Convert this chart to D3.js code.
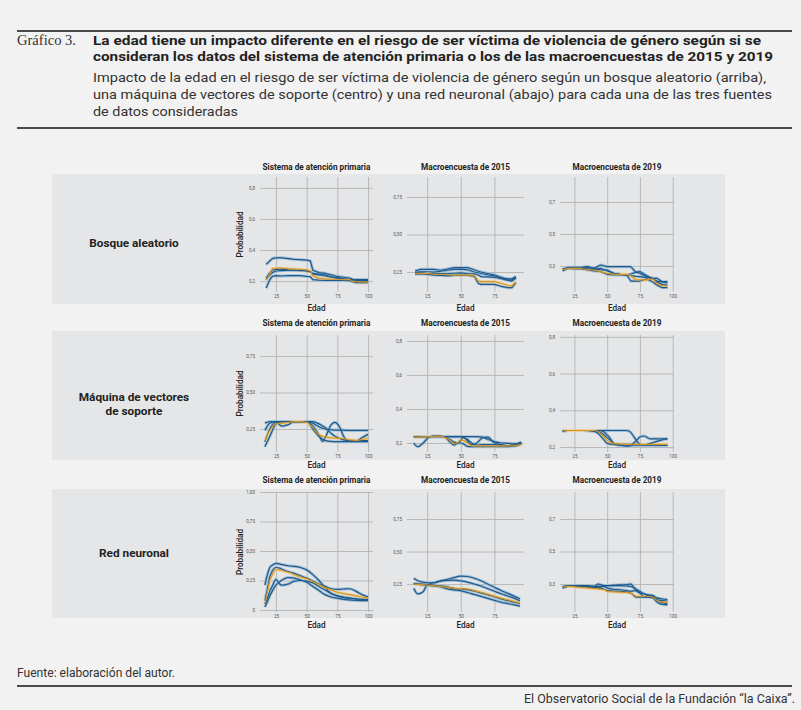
<!DOCTYPE html>
<html><head><meta charset="utf-8">
<script src="https://cdn.jsdelivr.net/npm/d3@7"></script>
<style>body{margin:0;background:#f2f2f2}svg{display:block}</style>
</head><body><svg id="c" width="801" height="710"></svg>
<script>
// ---------- categories / labels ----------
const rowLabels = [["Bosque aleatorio"], ["Máquina de vectores", "de soporte"], ["Red neuronal"]];
const colTitles = ["Sistema de atención primaria", "Macroencuesta de 2015", "Macroencuesta de 2019"];
const xTicksByCol = [[25, 50, 75, 100], [25, 50, 75], [25, 50, 75, 100]];
const seriesColorKeys = ["blue", "blue", "blue", "blue", "orange"];

// ---------- Bosque aleatorio ----------
const yTicks_rf_ap = [0.2, 0.4, 0.6, 0.8];
const ages_rf_ap = [17,20,22,25,30,35,40,45,50,53,55,60,65,70,75,80,85,88,90,95,100];
const rf_ap = [
  [0.308,0.33,0.345,0.35,0.35,0.345,0.34,0.338,0.335,0.33,0.27,0.255,0.25,0.24,0.23,0.225,0.22,0.21,0.21,0.21,0.21],
  [0.21,0.24,0.255,0.265,0.268,0.27,0.27,0.268,0.265,0.26,0.245,0.24,0.238,0.228,0.222,0.215,0.212,0.208,0.205,0.205,0.205],
  [0.155,0.21,0.23,0.235,0.233,0.235,0.236,0.235,0.23,0.228,0.21,0.207,0.205,0.205,0.205,0.205,0.203,0.195,0.19,0.19,0.19],
  [0.22,0.255,0.27,0.275,0.275,0.272,0.27,0.27,0.268,0.262,0.25,0.245,0.235,0.225,0.218,0.215,0.208,0.2,0.198,0.2,0.2],
  [0.206,0.25,0.28,0.283,0.283,0.28,0.278,0.275,0.272,0.265,0.235,0.218,0.215,0.213,0.212,0.21,0.21,0.198,0.195,0.195,0.193]
];
const yTicks_rf_2015 = [0.25, 0.5, 0.75];
const ages_rf_2015 = [16,20,25,30,35,40,45,50,55,60,63,65,70,75,80,85,88,91];
const rf_2015 = [
  [0.257,0.268,0.268,0.268,0.262,0.27,0.279,0.279,0.279,0.265,0.255,0.25,0.24,0.23,0.215,0.2,0.197,0.215],
  [0.248,0.252,0.252,0.25,0.255,0.262,0.268,0.27,0.265,0.25,0.245,0.24,0.232,0.225,0.21,0.205,0.205,0.22],
  [0.236,0.238,0.235,0.23,0.228,0.225,0.228,0.23,0.228,0.222,0.175,0.168,0.168,0.168,0.155,0.146,0.146,0.18],
  [0.245,0.245,0.242,0.24,0.24,0.238,0.242,0.245,0.24,0.238,0.23,0.22,0.218,0.215,0.205,0.195,0.19,0.21],
  [0.241,0.24,0.24,0.237,0.235,0.232,0.23,0.23,0.23,0.228,0.19,0.186,0.186,0.186,0.175,0.16,0.157,0.185]
];
const yTicks_rf_2019 = [0.3, 0.5, 0.7];
const ages_rf_2019 = [16,20,25,30,35,40,45,50,55,60,65,68,72,75,80,85,88,92,96];
const rf_2019 = [
  [0.275,0.292,0.292,0.292,0.294,0.285,0.306,0.296,0.296,0.296,0.296,0.296,0.26,0.255,0.233,0.223,0.223,0.202,0.202],
  [0.279,0.288,0.288,0.288,0.296,0.285,0.275,0.275,0.254,0.248,0.244,0.25,0.262,0.265,0.24,0.219,0.205,0.2,0.196],
  [0.269,0.285,0.282,0.282,0.275,0.269,0.265,0.248,0.244,0.244,0.244,0.206,0.206,0.206,0.219,0.2,0.181,0.165,0.165],
  [0.279,0.288,0.285,0.285,0.282,0.279,0.285,0.269,0.254,0.248,0.244,0.24,0.235,0.233,0.227,0.223,0.2,0.185,0.181],
  [0.275,0.285,0.285,0.285,0.275,0.275,0.265,0.254,0.248,0.248,0.248,0.24,0.213,0.213,0.213,0.219,0.19,0.175,0.175]
];

// ---------- Máquina de vectores de soporte ----------
const yTicks_svm_ap = [0.25, 0.5, 0.75];
const ages_svm_ap = [16,20,25,30,35,40,45,50,55,60,63,65,70,73,77,80,85,90,95,100];
const svm_ap = [
  [0.29,0.3,0.3,0.3,0.3,0.3,0.3,0.3,0.29,0.265,0.255,0.25,0.245,0.243,0.243,0.242,0.24,0.24,0.24,0.24],
  [0.163,0.25,0.295,0.27,0.28,0.3,0.3,0.3,0.27,0.21,0.165,0.19,0.28,0.295,0.26,0.2,0.165,0.165,0.19,0.214],
  [0.129,0.2,0.285,0.3,0.3,0.3,0.3,0.3,0.25,0.2,0.18,0.17,0.165,0.163,0.163,0.163,0.163,0.163,0.163,0.163],
  [0.24,0.29,0.3,0.3,0.3,0.3,0.3,0.3,0.3,0.285,0.27,0.26,0.22,0.2,0.185,0.175,0.17,0.17,0.17,0.17],
  [0.17,0.24,0.285,0.29,0.295,0.3,0.3,0.295,0.26,0.21,0.2,0.195,0.19,0.188,0.186,0.185,0.175,0.172,0.178,0.185]
];
const yTicks_svm_2015 = [0.2, 0.4, 0.6, 0.8];
const ages_svm_2015 = [15,18,22,27,30,35,38,42,45,48,50,52,55,58,62,66,70,75,80,85,90,95];
const svm_2015 = [
  [0.237,0.237,0.237,0.237,0.237,0.237,0.237,0.237,0.237,0.237,0.237,0.237,0.237,0.237,0.237,0.235,0.222,0.208,0.2,0.198,0.195,0.195],
  [0.2,0.178,0.2,0.237,0.24,0.24,0.235,0.22,0.205,0.2,0.215,0.235,0.21,0.19,0.2,0.23,0.235,0.2,0.19,0.185,0.19,0.205],
  [0.237,0.237,0.237,0.238,0.24,0.24,0.235,0.205,0.188,0.2,0.2,0.195,0.18,0.178,0.178,0.178,0.178,0.178,0.178,0.178,0.185,0.2],
  [0.237,0.237,0.237,0.237,0.237,0.237,0.237,0.237,0.237,0.237,0.237,0.232,0.22,0.2,0.187,0.19,0.19,0.19,0.188,0.183,0.182,0.195],
  [0.235,0.235,0.236,0.237,0.238,0.24,0.232,0.215,0.197,0.205,0.218,0.215,0.2,0.185,0.183,0.183,0.183,0.183,0.183,0.183,0.185,0.19]
];
const yTicks_svm_2019 = [0.2, 0.4, 0.6, 0.8];
const ages_svm_2019 = [16,20,30,40,43,47,50,52,55,60,65,68,70,73,75,78,83,90,96];
const svm_2019 = [
  [0.285,0.29,0.29,0.29,0.29,0.29,0.29,0.29,0.29,0.29,0.29,0.28,0.26,0.23,0.215,0.213,0.22,0.235,0.245],
  [0.29,0.29,0.29,0.29,0.285,0.27,0.25,0.24,0.22,0.215,0.215,0.215,0.22,0.24,0.255,0.26,0.245,0.245,0.245],
  [0.29,0.29,0.29,0.29,0.29,0.285,0.265,0.25,0.22,0.21,0.205,0.208,0.213,0.215,0.215,0.213,0.212,0.21,0.21],
  [0.285,0.29,0.29,0.285,0.275,0.245,0.22,0.217,0.215,0.21,0.21,0.21,0.21,0.21,0.21,0.21,0.21,0.21,0.21],
  [0.288,0.29,0.29,0.29,0.285,0.26,0.235,0.225,0.22,0.216,0.215,0.215,0.215,0.215,0.215,0.215,0.215,0.215,0.215]
];

// ---------- Red neuronal ----------
const yTicks_nn_ap = [0, 0.25, 0.5, 0.75, 1];
const ages_nn_ap = [16,18,20,22,25,28,30,35,40,45,50,55,60,65,70,75,80,85,90,95,100];
const nn_ap = [
  [0.21,0.3,0.36,0.38,0.395,0.39,0.385,0.375,0.37,0.36,0.34,0.3,0.25,0.19,0.14,0.12,0.105,0.1,0.095,0.09,0.088],
  [0.08,0.18,0.28,0.33,0.36,0.355,0.345,0.325,0.31,0.29,0.27,0.245,0.22,0.2,0.18,0.175,0.178,0.18,0.16,0.13,0.11],
  [0.05,0.1,0.16,0.2,0.26,0.22,0.21,0.22,0.245,0.25,0.245,0.23,0.2,0.17,0.14,0.12,0.11,0.1,0.095,0.09,0.09],
  [0.025,0.07,0.12,0.16,0.21,0.24,0.255,0.275,0.27,0.255,0.235,0.2,0.165,0.13,0.11,0.1,0.09,0.085,0.082,0.08,0.08],
  [0.056,0.15,0.25,0.3,0.345,0.34,0.335,0.32,0.3,0.28,0.265,0.24,0.215,0.19,0.17,0.15,0.14,0.13,0.12,0.11,0.1]
];
const yTicks_nn_2015 = [0.25, 0.5, 0.75];
const ages_nn_2015 = [15,18,22,25,30,35,40,45,50,55,60,65,70,75,80,85,90,94];
const nn_2015 = [
  [0.217,0.174,0.19,0.245,0.26,0.275,0.285,0.3,0.311,0.308,0.295,0.275,0.25,0.225,0.2,0.178,0.155,0.135],
  [0.294,0.275,0.265,0.26,0.26,0.272,0.278,0.28,0.275,0.265,0.25,0.235,0.215,0.195,0.175,0.158,0.14,0.12],
  [0.255,0.252,0.25,0.247,0.242,0.236,0.228,0.215,0.212,0.207,0.196,0.182,0.167,0.152,0.135,0.122,0.11,0.1],
  [0.25,0.247,0.243,0.24,0.235,0.227,0.213,0.205,0.198,0.185,0.17,0.155,0.14,0.125,0.11,0.1,0.09,0.08],
  [0.25,0.248,0.245,0.242,0.237,0.232,0.224,0.218,0.215,0.212,0.2,0.187,0.172,0.157,0.142,0.128,0.115,0.103]
];
const yTicks_nn_2019 = [0.3, 0.5, 0.7];
const ages_nn_2019 = [16,20,25,30,35,40,43,48,50,55,60,65,68,72,75,78,80,85,88,92,96];
const nn_2019 = [
  [0.284,0.29,0.29,0.29,0.29,0.285,0.3,0.29,0.29,0.293,0.295,0.297,0.3,0.26,0.245,0.24,0.235,0.23,0.205,0.198,0.195],
  [0.275,0.285,0.285,0.285,0.282,0.28,0.28,0.285,0.275,0.268,0.265,0.26,0.255,0.26,0.245,0.222,0.222,0.225,0.205,0.185,0.18],
  [0.28,0.285,0.285,0.283,0.28,0.277,0.275,0.268,0.26,0.257,0.255,0.25,0.245,0.22,0.22,0.22,0.22,0.215,0.19,0.175,0.172],
  [0.28,0.285,0.285,0.285,0.285,0.285,0.285,0.287,0.29,0.29,0.29,0.288,0.285,0.27,0.255,0.24,0.232,0.225,0.215,0.208,0.205],
  [0.28,0.285,0.283,0.28,0.276,0.272,0.27,0.265,0.255,0.252,0.25,0.248,0.245,0.225,0.225,0.225,0.225,0.22,0.2,0.19,0.19]
];

// ---------- layout (positions / styles) ----------
const FONT = "Roboto, 'Open Sans', sans-serif";
const colors = {
  blue: {core: "#1d5a8c", halo: "#a3bfd6"},
  orange: {core: "#d2972a", halo: "#ecd29f"}
};
const xRanges = [[260, 373], [407, 524], [560, 674]];
const xDomains = [[12, 104], [10, 97], [14, 101]];
const yRanges = [[292, 177], [452, 335], [612, 492]];
const grayBands = [[174, 304], [331, 460], [489, 618]];
const rowLabelY = [247, 401, 557];
const titleY = [170, 326, 483];
const edadY = [311, 468, 628];

const panels = [
  {r:0,c:0,ages:ages_rf_ap,series:rf_ap,ticks:yTicks_rf_ap,dom:[0.13,0.87],dec:1,curve:d3.curveLinear},
  {r:0,c:1,ages:ages_rf_2015,series:rf_2015,ticks:yTicks_rf_2015,dom:[0.117,0.883],dec:2,curve:d3.curveLinear},
  {r:0,c:2,ages:ages_rf_2019,series:rf_2019,ticks:yTicks_rf_2019,dom:[0.1375,0.856],dec:1,curve:d3.curveLinear},
  {r:1,c:0,ages:ages_svm_ap,series:svm_ap,ticks:yTicks_svm_ap,dom:[0.0925,0.894],dec:2,curve:d3.curveMonotoneX},
  {r:1,c:1,ages:ages_svm_2015,series:svm_2015,ticks:yTicks_svm_2015,dom:[0.147,0.835],dec:1,curve:d3.curveMonotoneX},
  {r:1,c:2,ages:ages_svm_2019,series:svm_2019,ticks:yTicks_svm_2019,dom:[0.173,0.81],dec:1,curve:d3.curveMonotoneX},
  {r:2,c:0,ages:ages_nn_ap,series:nn_ap,ticks:yTicks_nn_ap,dom:[-0.017,1.0],dec:2,curve:d3.curveMonotoneX},
  {r:2,c:1,ages:ages_nn_2015,series:nn_2015,ticks:yTicks_nn_2015,dom:[0.035,0.958],dec:2,curve:d3.curveMonotoneX},
  {r:2,c:2,ages:ages_nn_2019,series:nn_2019,ticks:yTicks_nn_2019,dom:[0.128,0.866],dec:1,curve:d3.curveMonotoneX}
];

const svg = d3.select("#c");
svg.append("rect").attr("width", 801).attr("height", 710).attr("fill", "#f2f2f2");

// ---------- header ----------
function rule(y) {
  svg.append("line").attr("x1", 17).attr("x2", 792).attr("y1", y).attr("y2", y)
    .attr("stroke", "#4a4a4a").attr("stroke-width", 2.2);
}
rule(31); rule(128); rule(686);

svg.append("text").attr("x", 17).attr("y", 45).text("Gráfico 3.")
  .attr("font-family", "'Liberation Serif', 'DejaVu Serif', serif").attr("font-size", 14.5)
  .attr("fill", "#333").attr("textLength", 59).attr("lengthAdjust", "spacingAndGlyphs");

const titleLines = [
  ["La edad tiene un impacto diferente en el riesgo de ser víctima de violencia de género según si se", 45, 668],
  ["consideran los datos del sistema de atención primaria o los de las macroencuestas de 2015 y 2019", 61, 680]
];
titleLines.forEach(([t, y, w]) => {
  svg.append("text").attr("x", 93).attr("y", y).text(t)
    .attr("font-family", FONT).attr("font-weight", 700).attr("font-size", 13.5).attr("fill", "#222")
    .attr("textLength", w).attr("lengthAdjust", "spacingAndGlyphs");
});
const subLines = [
  ["Impacto de la edad en el riesgo de ser víctima de violencia de género según un bosque aleatorio (arriba),", 82, 673],
  ["una máquina de vectores de soporte (centro) y una red neuronal (abajo) para cada una de las tres fuentes", 99, 679],
  ["de datos consideradas", 116, 145]
];
subLines.forEach(([t, y, w]) => {
  svg.append("text").attr("x", 93).attr("y", y).text(t)
    .attr("font-family", FONT).attr("font-weight", 400).attr("font-size", 13.5).attr("fill", "#333")
    .attr("textLength", w).attr("lengthAdjust", "spacingAndGlyphs");
});

// ---------- footer ----------
svg.append("text").attr("x", 17).attr("y", 677).text("Fuente: elaboración del autor.")
  .attr("font-family", FONT).attr("font-size", 12).attr("fill", "#333")
  .attr("textLength", 158).attr("lengthAdjust", "spacingAndGlyphs");
svg.append("text").attr("x", 795).attr("y", 703).attr("text-anchor", "end")
  .text("El Observatorio Social de la Fundación “la Caixa”.")
  .attr("font-family", FONT).attr("font-size", 12).attr("fill", "#333")
  .attr("textLength", 271).attr("lengthAdjust", "spacingAndGlyphs");

// ---------- row bands & labels ----------
grayBands.forEach(([y0, y1], r) => {
  svg.append("rect").attr("x", 52).attr("y", y0).attr("width", 725 - 52).attr("height", y1 - y0)
    .attr("fill", "#e5e6e8");
  const t = svg.append("text").attr("x", 134).attr("text-anchor", "middle")
    .attr("font-family", FONT).attr("font-weight", 700).attr("font-size", 11.8).attr("fill", "#222");
  rowLabels[r].forEach((l, i) => {
    t.append("tspan").attr("x", 134).attr("y", rowLabelY[r] + i * 14).text(l);
  });
});

// ---------- panels ----------
const fmtComma = (v, dec) => v === 0 ? "0" : d3.format("." + dec + "f")(v).replace(".", ",");

panels.forEach(p => {
  const x = d3.scaleLinear().domain(xDomains[p.c]).range(xRanges[p.c]);
  const y = d3.scaleLinear().domain(p.dom).range(yRanges[p.r]);
  const g = svg.append("g");
  const w = xRanges[p.c][1] - xRanges[p.c][0];
  const h = yRanges[p.r][0] - yRanges[p.r][1];

  const ya = g.append("g").attr("transform", `translate(${xRanges[p.c][0]},0)`)
    .call(d3.axisLeft(y).tickValues(p.ticks).tickSize(-w).tickPadding(5)
      .tickFormat(v => fmtComma(v, p.dec)));
  const xa = g.append("g").attr("transform", `translate(0,${yRanges[p.r][0]})`)
    .call(d3.axisBottom(x).tickValues(xTicksByCol[p.c]).tickSize(-h).tickPadding(3)
      .tickFormat(d3.format("d")));
  [ya, xa].forEach(a => {
    a.select(".domain").remove();
    a.selectAll(".tick line").attr("stroke", "#adadad").attr("stroke-width", 0.8);
    a.selectAll(".tick text").attr("fill", "#555").attr("font-size", 4.6).attr("font-family", FONT);
  });

  const line = d3.line().x((d, i) => x(p.ages[i])).y(d => y(d)).curve(p.curve);
  p.series.forEach((s, i) => {
    const col = colors[seriesColorKeys[i]];
    g.append("path").attr("d", line(s)).attr("fill", "none")
      .attr("stroke", col.halo).attr("stroke-width", 3).attr("stroke-linejoin", "round");
  });
  p.series.forEach((s, i) => {
    const col = colors[seriesColorKeys[i]];
    g.append("path").attr("d", line(s)).attr("fill", "none")
      .attr("stroke", col.core).attr("stroke-width", 1.2).attr("stroke-linejoin", "round");
  });

  svg.append("text").attr("x", (xRanges[p.c][0] + xRanges[p.c][1]) / 2).attr("y", titleY[p.r])
    .attr("text-anchor", "middle").text(colTitles[p.c])
    .attr("font-family", FONT).attr("font-weight", 700).attr("font-size", 8.2).attr("fill", "#222");
  svg.append("text").attr("x", (xRanges[p.c][0] + xRanges[p.c][1]) / 2).attr("y", edadY[p.r])
    .attr("text-anchor", "middle").text("Edad")
    .attr("font-family", FONT).attr("font-weight", 500).attr("font-size", 8.2).attr("fill", "#222");
  if (p.c === 0) {
    const cy = (yRanges[p.r][0] + yRanges[p.r][1]) / 2;
    svg.append("text").attr("transform", `translate(243,${cy}) rotate(-90)`)
      .attr("text-anchor", "middle").text("Probabilidad")
      .attr("font-family", FONT).attr("font-weight", 500).attr("font-size", 8.2).attr("fill", "#222");
  }
});
</script></body></html>
